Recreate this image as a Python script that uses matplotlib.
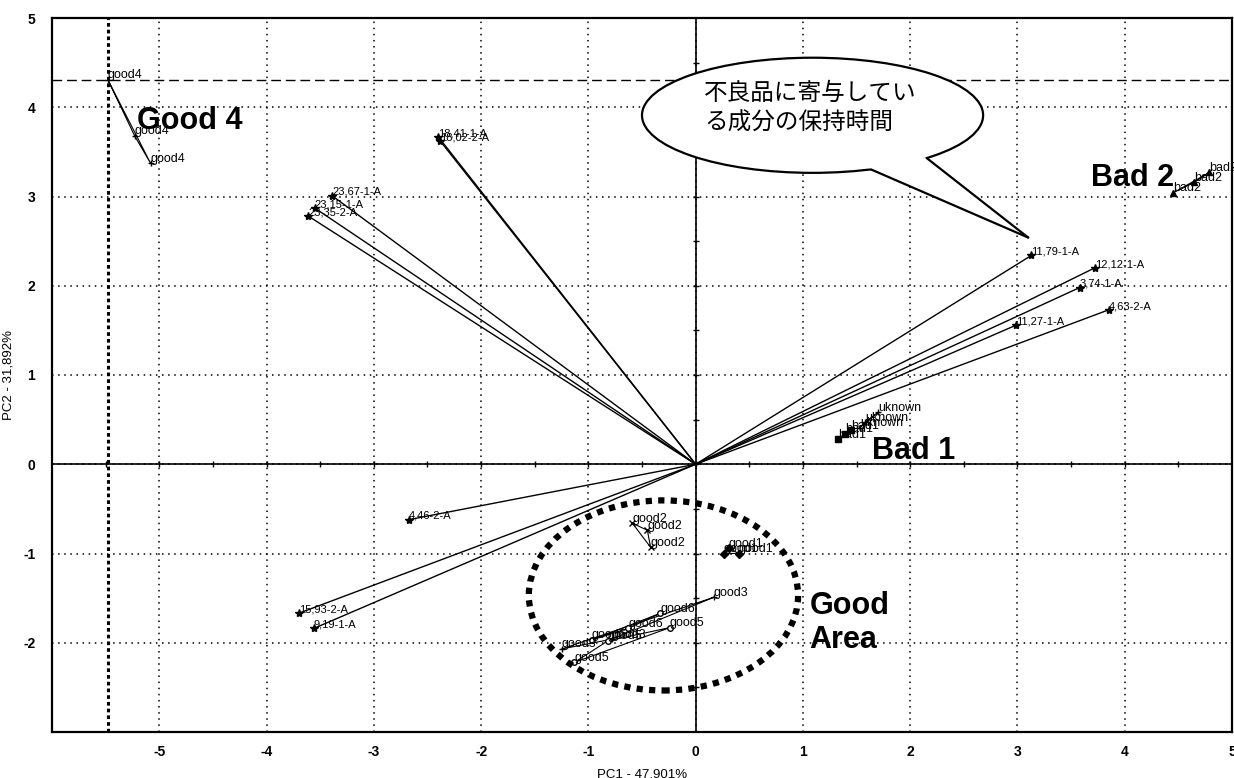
import numpy as np
import matplotlib.pyplot as plt
from matplotlib.patches import Ellipse, Polygon

plt.rcParams['font.family'] = ['Liberation Sans', 'DejaVu Sans']
plt.rcParams['axes.unicode_minus'] = False

# loadings (retention times)
load_labels = ['18,41-1-A', '18,02-2-A', '23,67-1-A', '23,15-1-A', '23,35-2-A',
               '11,79-1-A', '12,12-1-A', '3,74-1-A', '4,63-2-A', '11,27-1-A',
               '4,46-2-A', '15,93-2-A', '9,19-1-A']
load_x = [-2.40, -2.38, -3.39, -3.55, -3.61, 3.13, 3.72, 3.58, 3.85, 2.99, -2.67, -3.70, -3.56]
load_y = [3.67, 3.62, 3.01, 2.87, 2.78, 2.34, 2.20, 1.98, 1.73, 1.56, -0.62, -1.67, -1.84]

# scores (samples)
good4_x = [-5.48, -5.23, -5.08]
good4_y = [4.31, 3.68, 3.37]
bad2_x = [4.79, 4.65, 4.45]
bad2_y = [3.27, 3.16, 3.04]
bad1_x = [1.33, 1.39, 1.45]
bad1_y = [0.28, 0.34, 0.38]
unk_x = [1.53, 1.58, 1.70]
unk_y = [0.41, 0.47, 0.58]
good2_x = [-0.59, -0.45, -0.42]
good2_y = [-0.66, -0.74, -0.93]
good1_x = [0.26, 0.31, 0.40]
good1_y = [-1.00, -0.94, -1.00]
good3_x = [0.17, -0.78, -1.25]
good3_y = [-1.49, -1.96, -2.07]
good6_x = [-0.33, -0.63, -0.97]
good6_y = [-1.67, -1.84, -1.97]
good5_x = [-0.24, -0.82, -1.13]
good5_y = [-1.83, -1.98, -2.22]

fig = plt.figure(figsize=(12.34, 7.78), dpi=100)
ax = fig.add_axes([52 / 1234, 46 / 778, 1180 / 1234, 714 / 778])
ax.set_xlim(-6, 5)
ax.set_ylim(-3, 5)

ax.set_xticks(range(-5, 6))
ax.set_yticks(range(-2, 6))
ax.tick_params(length=0, labelsize=10)
ax.tick_params(axis='x', pad=9)
ax.tick_params(axis='y', pad=12)
for t in ax.get_xticklabels() + ax.get_yticklabels():
    t.set_fontweight('bold')
ax.grid(True, color='k', lw=1.1, ls=(0, (1, 3)))
for s in ax.spines.values():
    s.set_linewidth(1.6)

ax.set_xlabel('PC1 - 47,901%', fontsize=9.5, labelpad=7)
ax.set_ylabel('PC2 - 31,892%', fontsize=9.5, labelpad=6)

# axis lines with half-unit ticks
ax.axhline(0, color='k', lw=1.2, zorder=3)
ax.axvline(0, color='k', lw=1.2, zorder=3)
hx = np.arange(-11, 10) * 0.5
hy = np.arange(-5, 10) * 0.5
ax.plot(hx, np.zeros(len(hx)), ls='none', marker='|', ms=5, color='k', zorder=3)
ax.plot(np.zeros(len(hy)), hy, ls='none', marker='_', ms=5, color='k', zorder=3)

# reference lines through good4
ax.axvline(good4_x[0], color='k', lw=2.2, ls=(0, (1.2, 1)), zorder=2)
ax.axhline(good4_y[0], color='k', lw=1.0, ls=(0, (7, 3.5)), zorder=2)

# loading vectors
for lx, ly, lab in zip(load_x, load_y, load_labels):
    ax.plot([0, lx], [0, ly], color='k', lw=1.0, zorder=4)
    ax.plot(lx, ly, marker='*', ms=6, color='k', zorder=5)
    ax.annotate(lab, (lx, ly), xytext=(0, -1), textcoords='offset points',
                fontsize=8, ha='left', va='bottom', zorder=6)

groups = [
    ('good4', good4_x, good4_y, '+', 'k'),
    ('bad2', bad2_x, bad2_y, '^', 'k'),
    ('bad1', bad1_x, bad1_y, 's', 'k'),
    ('uknown', unk_x, unk_y, '+', 'k'),
    ('good2', good2_x, good2_y, 'x', 'k'),
    ('good1', good1_x, good1_y, 'D', 'k'),
    ('good3', good3_x, good3_y, '+', 'k'),
    ('good6', good6_x, good6_y, 'o', 'w'),
    ('good5', good5_x, good5_y, 'o', 'w'),
]
for name, gx, gy, mk, fc in groups:
    ax.plot(gx + gx[:1], gy + gy[:1], color='k', lw=0.8, zorder=4)
    ax.plot(gx, gy, ls='none', marker=mk, ms=4, mfc=fc, mec='k', color='k', zorder=5)
    for px, py in zip(gx, gy):
        ax.annotate(name, (px, py), xytext=(0, -1), textcoords='offset points',
                    fontsize=9, ha='left', va='bottom', zorder=6)

# group captions
big = dict(fontsize=22, fontweight='bold', zorder=7)
ax.text(-5.21, 3.85, 'Good 4', ha='left', va='center', **big)
ax.text(3.69, 3.21, 'Bad 2', ha='left', va='center', **big)
ax.text(1.64, 0.15, 'Bad 1', ha='left', va='center', **big)
ax.text(1.06, -1.78, 'Good\nArea', ha='left', va='center', linespacing=1.2, **big)

# dotted circle round the good area
ax.add_patch(Ellipse((-0.30, -1.47), 2.51, 2.13, fill=False, ec='k', lw=4.5,
                     ls=(0, (1, 1)), capstyle='butt', zorder=6))

# speech bubble
cx, cy, ew, eh = 1.09, 3.91, 3.18, 1.29
tip = (3.10, 2.54)
ax.add_patch(Ellipse((cx, cy), ew, eh, fc='w', ec='k', lw=1.6, zorder=8))
base = []
for a in np.radians([-70, -48]):
    base.append((cx + ew / 2 * np.cos(a), cy + eh / 2 * np.sin(a)))
inner = [(cx + 0.85 * (bx - cx), cy + 0.85 * (by - cy)) for bx, by in base]
ax.add_patch(Polygon([inner[0], base[0], tip, base[1], inner[1]], closed=True,
                     fc='w', ec='none', zorder=9))
for bx, by in base:
    ax.plot([bx, tip[0]], [by, tip[1]], color='k', lw=1.6, zorder=10,
            solid_capstyle='round')
jp = dict(fontsize=17, family=['Noto Sans CJK JP', 'DejaVu Sans'], ha='left',
          va='center', zorder=11)
ax.text(0.08, 4.16, '不良品に寄与してい', **jp)
ax.text(0.08, 3.82, 'る成分の保持時間', **jp)

fig.savefig('out.png', dpi=100)
